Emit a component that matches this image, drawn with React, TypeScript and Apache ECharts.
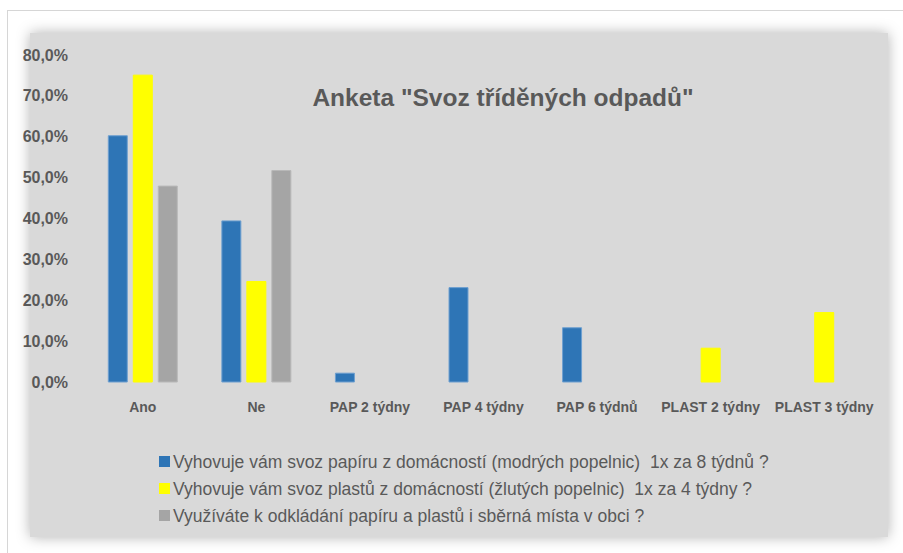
import React, { useEffect, useRef } from "react";
import * as echarts from "echarts";

const categories = ["Ano", "Ne", "PAP 2 týdny", "PAP 4 týdny", "PAP 6 týdnů", "PLAST 2 týdny", "PLAST 3 týdny"];
const seriesNames = [
  "Vyhovuje vám svoz papíru z domácností (modrých popelnic)  1x za 8 týdnů ?",
  "Vyhovuje vám svoz plastů z domácností (žlutých popelnic)  1x za 4 týdny ?",
  "Využíváte k odkládání papíru a plastů i sběrná místa v obci ?",
];
const paperValues = [60.4, 39.6, 2.4, 23.3, 13.5, null, null];
const plasticValues = [75.2, 24.8, null, null, null, 8.5, 17.2];
const collectionValues = [48.1, 51.9, null, null, null, null, null];
const titleText = 'Anketa "Svoz tříděných odpadů"';

const FONT = "'Liberation Sans', Arial, sans-serif";
const TEXT = "#595959";

export default function App() {
  const ref = useRef<HTMLDivElement>(null);
  useEffect(() => {
    if (!ref.current) return;
    const chart = echarts.init(ref.current, null, { renderer: "svg" });
    const colors = ["#2e75b6", "#ffff00", "#a5a5a5"];
    const borders = ["#6fa0d0", "#ffff00", "#b8b8b8"];
    const data = [paperValues, plasticValues, collectionValues];
    chart.setOption({
      animation: false,
      backgroundColor: "#ffffff",
      textStyle: { fontFamily: FONT },
      graphic: {
        elements: [
          { type: "line", z: -20, shape: { x1: 7, y1: 10.5, x2: 903, y2: 10.5 }, style: { stroke: "#d6d6d6", lineWidth: 1 } },
          { type: "line", z: -20, shape: { x1: 7.5, y1: 10, x2: 7.5, y2: 553 }, style: { stroke: "#d6d6d6", lineWidth: 1 } },
          {
            type: "rect",
            z: -10,
            shape: { x: 30, y: 33, width: 858, height: 504 },
            style: { fill: "#d9d9d9", shadowBlur: 14, shadowColor: "rgba(0,0,0,0.3)", shadowOffsetX: 0, shadowOffsetY: 0 },
          },
          {
            type: "text",
            z: 50,
            x: 503,
            y: 97,
            style: {
              text: titleText,
              fill: TEXT,
              font: `bold 24.5px ${FONT}`,
              textAlign: "center",
              textVerticalAlign: "middle",
            },
          },
        ],
      },
      grid: { left: 86, right: 22, top: 55, bottom: 170.5, containLabel: false },
      xAxis: {
        type: "category",
        data: categories,
        axisLine: { show: false },
        axisTick: { show: false },
        axisLabel: { color: TEXT, fontWeight: "bold", fontSize: 14, fontFamily: FONT, margin: 17, interval: 0 },
      },
      yAxis: {
        type: "value",
        min: 0,
        max: 80,
        interval: 10,
        splitLine: { show: false },
        axisLine: { show: false },
        axisTick: { show: false },
        axisLabel: {
          color: TEXT,
          fontWeight: "bold",
          fontSize: 16,
          fontFamily: FONT,
          margin: 18,
          formatter: (v: number) => v.toFixed(1).replace(".", ",") + "%",
        },
      },
      legend: {
        orient: "vertical",
        left: 154,
        top: 447.5,
        padding: 5,
        itemWidth: 11,
        itemHeight: 11,
        itemGap: 9,
        icon: "rect",
        itemStyle: { borderWidth: 0 },
        textStyle: { color: TEXT, fontSize: 17.5, fontFamily: FONT, lineHeight: 17, padding: [0, 0, 0, -2] },
        data: seriesNames,
      },
      series: seriesNames.map((name, i) => ({
        name,
        type: "bar",
        data: data[i],
        barWidth: 20,
        barGap: "25%",
        itemStyle: { color: colors[i], borderColor: borders[i], borderWidth: 1 },
      })),
    });
    return () => chart.dispose();
  }, []);
  return <div ref={ref} style={{ position: "absolute", left: 0, top: 0, width: 903, height: 553 }} />;
}
